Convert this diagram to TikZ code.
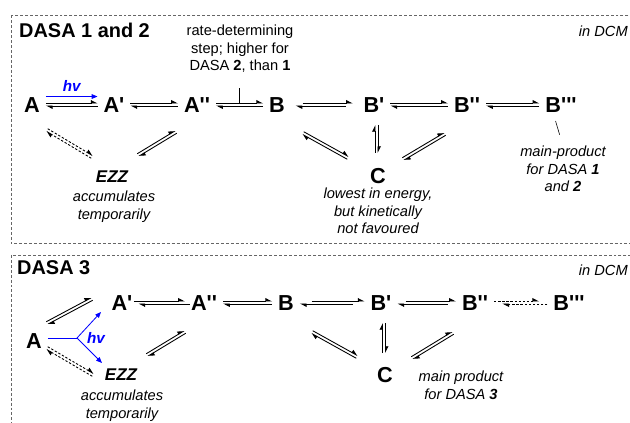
\documentclass[tikz,border=0pt]{standalone}
\usepackage{fontspec}
\setmainfont{Liberation Sans}[Ligatures=TeXOff]
\usetikzlibrary{arrows.meta,calc}

\newcommand{\equil}[3][]{%
  \coordinate (eqs) at (#2);
  \coordinate (eqe) at (#3);
  \draw[eqline,#1] ($(eqs)!1.25pt!90:(eqe)$) -- ($(eqe)!1.25pt!-90:(eqs)$);
  \draw[eqline,#1] ($(eqe)!1.25pt!90:(eqs)$) -- ($(eqs)!1.25pt!-90:(eqe)$);
}

\begin{document}
\begin{tikzpicture}[x=0.03cm,y=-0.03cm]
\tikzset{frame/.style={draw=black!60,line width=0.6pt,dash pattern=on 2.5pt off 1.7pt}}
\tikzset{boxtitle/.style={font=\fontsize{17pt}{20pt}\selectfont\bfseries,anchor=west,inner sep=0pt}}
\tikzset{solv/.style={font=\fontsize{12.5pt}{15pt}\selectfont\itshape,anchor=east,inner sep=0pt}}
\tikzset{species/.style={font=\fontsize{18.5pt}{21pt}\selectfont\bfseries,inner sep=0pt,text height=13.2pt,text depth=0pt}}
\tikzset{ezz/.style={font=\fontsize{14.5pt}{17pt}\selectfont\bfseries\itshape,inner sep=0pt,text height=10.4pt,text depth=0pt}}
\tikzset{note/.style={font=\fontsize{12.5pt}{14.9pt}\selectfont,align=center,inner sep=0pt,anchor=north}}
\tikzset{inote/.style={note,font=\fontsize{12.5pt}{14.9pt}\selectfont\itshape}}
\tikzset{eqline/.style={line width=0.75pt,-{Triangle[harpoon,length=5pt,width=5pt]}}}
\tikzset{hgap/.style={shorten <=5pt,shorten >=5pt}}
\tikzset{eqdash/.style={dash pattern=on 2pt off 1.5pt}}
\tikzset{hv/.style={blue,line width=0.7pt}}
\tikzset{hvtip/.style={hv,-{Triangle[length=5pt,width=4pt]}}}
\tikzset{hvlabel/.style={font=\fontsize{13pt}{15pt}\selectfont\bfseries\itshape,text=blue,inner sep=0pt}}
\tikzset{tick/.style={line width=0.5pt}}
\clip (0,0) rectangle (630,423);
\draw[frame] (11,15.5) rectangle (660,243.5);
\draw[frame] (11,255) rectangle (660,450);

\node[boxtitle] (t1) at (19,30) {DASA 1 and 2};
\node[solv] (s1) at (628,31) {in DCM};
\node[note] (rd) at (240,25) {rate-determining\\step; higher for\\DASA \textbf{2}, than \textbf{1}};
\node[species] (A1) at (32,104.5) {A};
\node[species] (Ap1) at (114,104.5) {A'};
\node[species] (App1) at (197,104.5) {A''};
\node[species] (B1) at (277,104.5) {B};
\node[species] (Bp1) at (374,104.5) {B'};
\node[species] (Bpp1) at (467,104.5) {B''};
\node[species] (Bppp1) at (561,104.5) {B'''};
\node[species] (C1) at (378,175.5) {C};
\node[ezz] (EZZ1) at (112,176) {EZZ};
\node[inote] (acc1) at (114,191) {accumulates\\temporarily};
\node[inote] (low1) at (378,188) {lowest in energy,\\but kinetically\\not favoured};
\node[inote] (mp1) at (563,146) {main-product\\for DASA \textbf{1}\\and \textbf{2}};

\draw[hv,-{Triangle[length=5pt,width=4pt]},hgap] ([yshift=6.8pt]A1.east) -- ([yshift=6.8pt]Ap1.west) node[hvlabel,midway,above=3.8pt] (hv1) {hv};
\equil[hgap]{A1.east}{Ap1.west}
\equil[hgap]{Ap1.east}{App1.west}
\equil[hgap]{App1.east}{B1.west}
\equil[shorten <=15pt,shorten >=9pt]{B1.east}{Bp1.west}
\equil[hgap]{Bp1.east}{Bpp1.west}
\equil[hgap]{Bpp1.east}{Bppp1.west}
\equil[eqdash]{[shift={(15,25.5)}]A1}{[shift={(-20,-19)}]EZZ1}
\equil{[shift={(26,-21)}]EZZ1}{[shift={(-21,27.5)}]App1}
\equil{[shift={(26,28.5)}]B1}{[shift={(-30,-17.5)}]C1}
\equil{[shift={(2.5,20.5)}]Bp1}{[shift={(-1.5,-22.5)}]C1}
\equil{[shift={(25,-16.5)}]C1}{[shift={(-22,29.5)}]Bpp1}
\coordinate (rdtick) at ($(App1.east)!0.5!(B1.west)$);
\draw[tick,shorten <=1.4pt,shorten >=13pt] (rdtick) -- (rdtick |- rd.south);
\draw[tick,shorten <=7.6pt,shorten >=10pt] ([shift={(-8,0)}]Bppp1.south) -- (mp1.north);

\node[boxtitle] (t2) at (17,268) {DASA 3};
\node[solv] (s2) at (628,270) {in DCM};
\node[species] (A2) at (34,340.5) {A};
\node[species] (Ap2) at (122,302.5) {A'};
\node[species] (App2) at (204,302.5) {A''};
\node[species] (B2) at (286,302.5) {B};
\node[species] (Bp2) at (381,302.5) {B'};
\node[species] (Bpp2) at (475,302.5) {B''};
\node[species] (Bppp2) at (569,302.5) {B'''};
\node[species] (C2) at (385,375) {C};
\node[ezz] (EZZ2) at (121,374) {EZZ};
\node[inote] (acc2) at (122,390) {accumulates\\temporarily};
\node[inote] (mp2) at (461,371) {main product\\for DASA \textbf{3}};

\equil[shorten <=1pt,shorten >=5pt]{Ap2.east}{App2.west}
\equil[hgap]{App2.east}{B2.west}
\equil[shorten <=15pt,shorten >=5pt]{B2.east}{Bp2.west}
\equil[shorten <=12pt,shorten >=5pt]{Bp2.east}{Bpp2.west}
\equil[eqdash,shorten <=5pt,shorten >=12pt]{Bpp2.east}{Bppp2.west}
\equil{[shift={(13,-17.5)}]A2}{[shift={(-30,-3.5)}]Ap2}
\equil[eqdash]{[shift={(13,7.5)}]A2}{[shift={(-28,1)}]EZZ2}
\equil{[shift={(26,-19)}]EZZ2}{[shift={(-19,29.5)}]App2}
\equil{[shift={(26,29.5)}]B2}{[shift={(-28,-18)}]C2}
\equil{[shift={(3,20.5)}]Bp2}{[shift={(-1,-22)}]C2}
\equil{[shift={(27,-17)}]C2}{[shift={(-22,30.5)}]Bpp2}
\coordinate (hvfork) at (77,338);
\coordinate (hvup) at (101,312);
\coordinate (hvdn) at (102,363);
\draw[hv,shorten <=5pt] (A2.east |- hvfork) -- (hvfork);
\draw[hvtip] (hvfork) -- (hvup);
\draw[hvtip] (hvfork) -- (hvdn);
\node[hvlabel] (hv2) at (96,338) {hv};
\end{tikzpicture}
\end{document}
